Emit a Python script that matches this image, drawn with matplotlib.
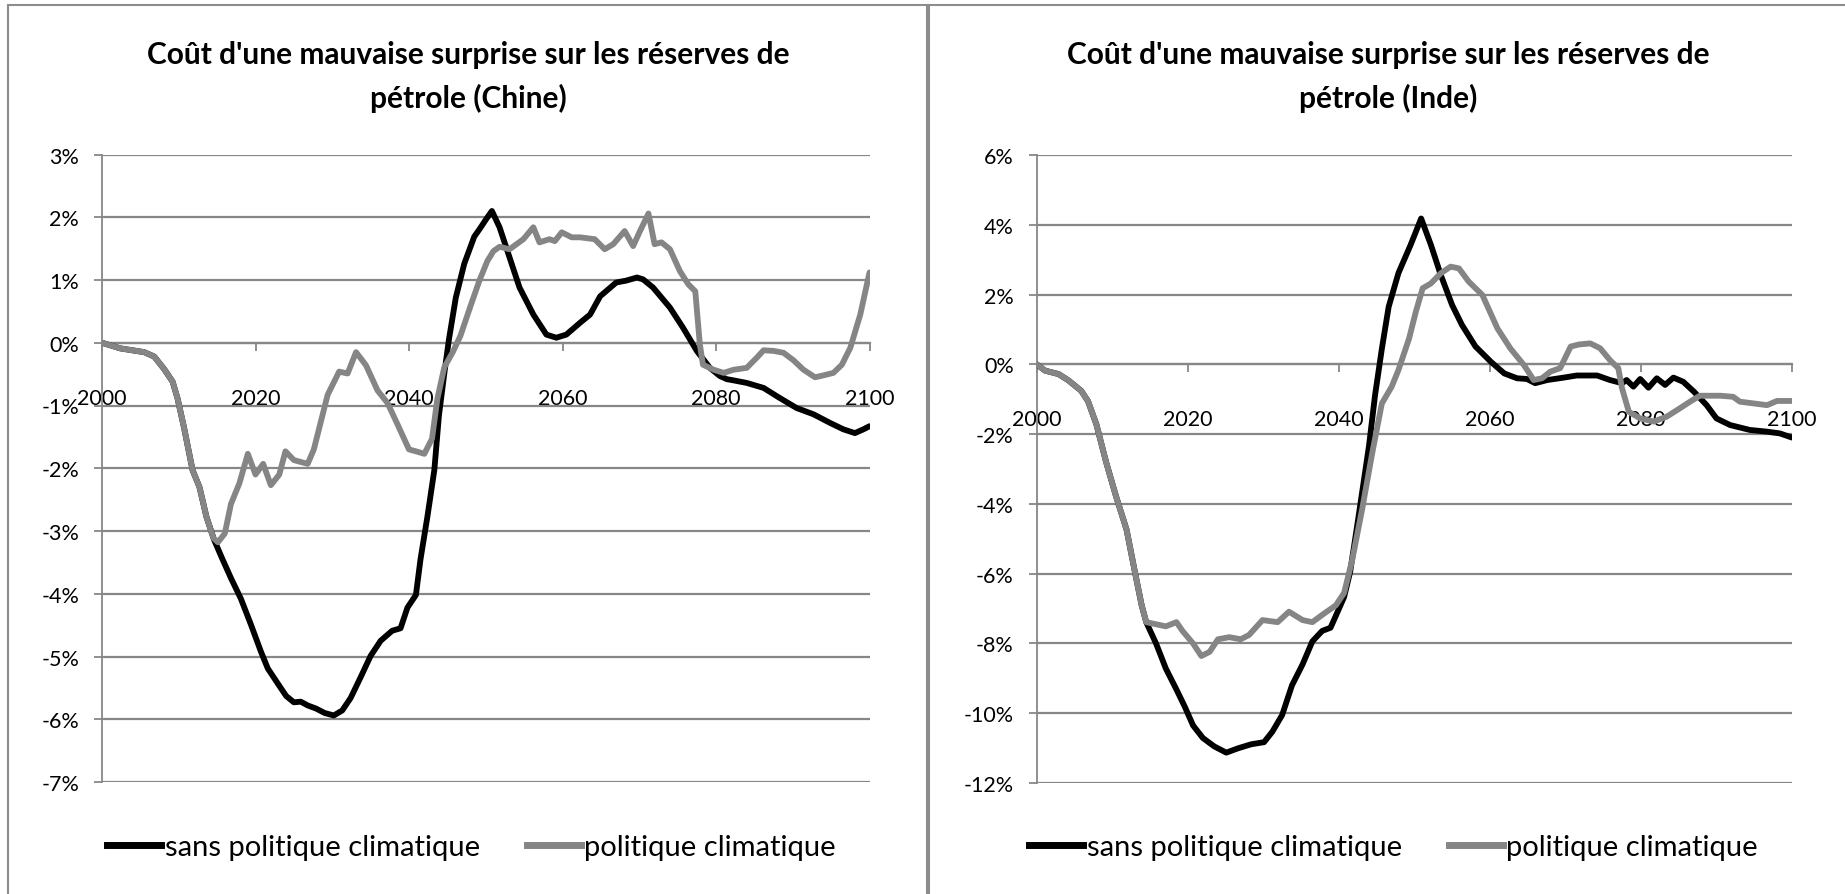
import matplotlib.pyplot as plt
from matplotlib.lines import Line2D
from matplotlib.patches import Rectangle

plt.rcParams['font.family'] = ['Lato', 'DejaVu Sans']

titles = ["Coût d'une mauvaise surprise sur les réserves de\npétrole (Chine)",
          "Coût d'une mauvaise surprise sur les réserves de\npétrole (Inde)"]
series_names = ["sans politique climatique", "politique climatique"]
x_ticks = [2000, 2020, 2040, 2060, 2080, 2100]
y_ticks_chine = [3, 2, 1, 0, -1, -2, -3, -4, -5, -6, -7]
y_ticks_inde = [6, 4, 2, 0, -2, -4, -6, -8, -10, -12]

# Chine, sans politique climatique (%)
chine_sans_years = [2000, 2002.4, 2005.5, 2006.8, 2008.1, 2009.2, 2009.85, 2010.7, 2011.8, 2012.7,
                    2013.6, 2014.6, 2015.7, 2016.8, 2018.1, 2019.4, 2020.7, 2021.6, 2022.9, 2024.0,
                    2025.0, 2025.9, 2026.8, 2027.9, 2029.0, 2030.2, 2031.3, 2032.4, 2033.7, 2035.0,
                    2036.3, 2037.8, 2038.9, 2039.8, 2040.9, 2041.5, 2042.4, 2043.3, 2043.9, 2044.6,
                    2045.2, 2046.1, 2047.2, 2048.5, 2049.3, 2050.0, 2050.8, 2051.8, 2053.1, 2054.4,
                    2056.2, 2057.9, 2059.2, 2060.5, 2062.3, 2063.6, 2064.9, 2067.0, 2068.3, 2069.7,
                    2070.5, 2071.8, 2074.0, 2075.7, 2077.5, 2079.2, 2080.5, 2081.4, 2082.3, 2084.0,
                    2086.2, 2088.3, 2090.5, 2092.7, 2094.9, 2096.6, 2098.1, 2099.2, 2100]
chine_sans = [0, -0.09, -0.15, -0.22, -0.42, -0.62, -0.89, -1.36, -2.03, -2.30,
              -2.77, -3.14, -3.45, -3.75, -4.08, -4.49, -4.92, -5.19, -5.43, -5.63,
              -5.73, -5.72, -5.78, -5.83, -5.90, -5.94, -5.86, -5.66, -5.33, -4.99,
              -4.75, -4.59, -4.55, -4.22, -4.02, -3.45, -2.77, -2.03, -1.16, -0.49,
              0.05, 0.72, 1.26, 1.69, 1.83, 1.96, 2.10, 1.84, 1.36, 0.88,
              0.45, 0.13, 0.08, 0.13, 0.32, 0.45, 0.74, 0.96, 0.99, 1.04,
              1.01, 0.88, 0.56, 0.24, -0.13, -0.40, -0.53, -0.58, -0.60, -0.64,
              -0.72, -0.88, -1.04, -1.14, -1.28, -1.38, -1.44, -1.38, -1.33]

# Chine, politique climatique (%)
chine_pol_years = [2000, 2002.4, 2005.5, 2006.8, 2008.1, 2009.2, 2009.85, 2010.7, 2011.8, 2012.7,
                   2013.6, 2014.5, 2015.1, 2016.0, 2016.8, 2017.9, 2019.0, 2020.0, 2021.0, 2022.0,
                   2023.1, 2023.9, 2025.0, 2026.8, 2027.6, 2029.4, 2030.9, 2032.0, 2033.1, 2034.4,
                   2035.9, 2037.2, 2038.5, 2040.0, 2040.9, 2042.0, 2043.0, 2043.7, 2044.6, 2045.7,
                   2046.7, 2048.0, 2049.2, 2050.2, 2051.0, 2051.8, 2053.1, 2054.9, 2056.2, 2057.0,
                   2058.3, 2059.0, 2059.9, 2061.2, 2062.3, 2064.2, 2065.5, 2066.6, 2068.1, 2069.2,
                   2070.1, 2071.2, 2072.0, 2072.9, 2074.0, 2075.3, 2076.4, 2077.3, 2077.9, 2078.3,
                   2079.7, 2081.0, 2082.3, 2084.0, 2085.3, 2086.2, 2087.5, 2088.8, 2090.1, 2091.4,
                   2092.9, 2094.0, 2095.3, 2096.4, 2097.5, 2098.8, 2100]
chine_pol = [0, -0.09, -0.15, -0.22, -0.42, -0.62, -0.89, -1.36, -2.03, -2.30,
             -2.77, -3.11, -3.18, -3.04, -2.57, -2.24, -1.77, -2.10, -1.93, -2.27,
             -2.10, -1.73, -1.87, -1.93, -1.70, -0.83, -0.46, -0.49, -0.15, -0.36,
             -0.76, -0.96, -1.30, -1.70, -1.73, -1.77, -1.53, -0.89, -0.39, -0.15,
             0.11, 0.58, 1.00, 1.30, 1.46, 1.53, 1.49, 1.65, 1.84, 1.60,
             1.65, 1.62, 1.76, 1.68, 1.68, 1.65, 1.49, 1.57, 1.78, 1.54,
             1.78, 2.06, 1.57, 1.60, 1.49, 1.14, 0.93, 0.82, -0.03, -0.35,
             -0.43, -0.48, -0.43, -0.40, -0.24, -0.12, -0.13, -0.16, -0.28, -0.43,
             -0.55, -0.52, -0.48, -0.35, -0.08, 0.45, 1.12]

# Inde, sans politique climatique (%)
inde_sans_years = [2000, 2001.1, 2002.9, 2004.2, 2005.9, 2006.8, 2007.9, 2009.2, 2010.5, 2011.9,
                   2013.0, 2013.9, 2014.5, 2015.8, 2017.1, 2018.5, 2019.6, 2020.7, 2022.0, 2023.5,
                   2025.1, 2026.6, 2028.4, 2030.1, 2031.2, 2032.5, 2033.8, 2035.2, 2036.5, 2037.8,
                   2038.9, 2039.6, 2040.7, 2041.5, 2042.6, 2044.0, 2044.8, 2045.7, 2046.6, 2047.9,
                   2049.5, 2050.9, 2052.2, 2053.5, 2055.0, 2056.3, 2058.1, 2060.1, 2061.9, 2063.6,
                   2064.9, 2066.0, 2067.6, 2069.8, 2071.5, 2074.2, 2075.9, 2077.5, 2078.1, 2079.0,
                   2079.9, 2081.0, 2082.1, 2083.2, 2084.3, 2085.6, 2087.0, 2088.7, 2090.0, 2091.8,
                   2094.4, 2096.7, 2098.4, 2100]
inde_sans = [0, -0.18, -0.28, -0.46, -0.76, -1.06, -1.72, -2.81, -3.78, -4.74,
             -5.95, -6.91, -7.39, -8.00, -8.72, -9.32, -9.81, -10.35, -10.71, -10.95,
             -11.13, -11.01, -10.89, -10.83, -10.53, -10.05, -9.20, -8.60, -7.94, -7.64,
             -7.55, -7.21, -6.67, -5.95, -4.38, -2.33, -0.88, 0.45, 1.65, 2.62,
             3.42, 4.18, 3.42, 2.56, 1.70, 1.13, 0.51, 0.08, -0.26, -0.40,
             -0.42, -0.54, -0.45, -0.38, -0.32, -0.32, -0.45, -0.54, -0.45, -0.64,
             -0.42, -0.67, -0.40, -0.59, -0.38, -0.50, -0.78, -1.17, -1.55, -1.74,
             -1.88, -1.93, -1.98, -2.10]

# Inde, politique climatique (%)
inde_pol_years = [2000, 2001.1, 2002.9, 2004.2, 2005.9, 2006.8, 2007.9, 2009.2, 2010.5, 2011.9,
                  2013.0, 2013.9, 2014.5, 2015.8, 2017.1, 2018.5, 2019.3, 2020.7, 2021.8, 2022.9,
                  2024.0, 2025.5, 2027.0, 2028.1, 2029.9, 2031.9, 2033.4, 2035.2, 2036.5, 2038.0,
                  2039.6, 2040.7, 2041.8, 2043.1, 2044.4, 2045.7, 2047.0, 2047.9, 2049.3, 2050.2,
                  2051.1, 2052.2, 2053.5, 2054.8, 2055.9, 2057.2, 2059.0, 2061.0, 2062.7, 2064.5,
                  2065.8, 2066.9, 2068.0, 2069.3, 2070.7, 2071.8, 2073.3, 2074.6, 2075.9, 2077.0,
                  2077.5, 2078.4, 2079.9, 2081.7, 2083.4, 2084.8, 2086.5, 2087.8, 2090.5, 2092.2,
                  2093.1, 2094.9, 2096.7, 2098.0, 2100]
inde_pol = [0, -0.18, -0.28, -0.46, -0.76, -1.06, -1.72, -2.81, -3.78, -4.74,
            -5.95, -6.91, -7.39, -7.45, -7.51, -7.39, -7.64, -8.00, -8.36, -8.24,
            -7.88, -7.82, -7.88, -7.76, -7.33, -7.39, -7.09, -7.33, -7.39, -7.15,
            -6.91, -6.55, -5.58, -4.14, -2.57, -1.12, -0.64, -0.16, 0.74, 1.51,
            2.18, 2.32, 2.61, 2.80, 2.75, 2.37, 1.99, 1.03, 0.46, -0.02,
            -0.45, -0.40, -0.21, -0.11, 0.51, 0.57, 0.60, 0.46, 0.12, -0.11,
            -0.69, -1.36, -1.55, -1.64, -1.50, -1.31, -1.07, -0.90, -0.90, -0.93,
            -1.07, -1.12, -1.17, -1.05, -1.05]

grid_col = '#878787'
black = '#000000'
grey = '#858585'

fig = plt.figure(figsize=(18.45, 8.95), dpi=100)

# chart frames
fig.add_artist(Rectangle((8 / 1845, -0.05), 919 / 1845, 1.05 - 6 / 895, transform=fig.transFigure,
                         fill=False, edgecolor='#8c8c8c', lw=1.5))
fig.add_artist(Rectangle((929.5 / 1845, -0.05), 0.6, 1.05 - 6 / 895, transform=fig.transFigure,
                         fill=False, edgecolor='#8c8c8c', lw=1.5))

ax1 = fig.add_axes([102 / 1845, 1 - 783 / 895, 767.5 / 1845, 627.5 / 895])
ax2 = fig.add_axes([1036.7 / 1845, 1 - 784 / 895, 755.3 / 1845, 628 / 895])

panels = [
    (ax1, chine_sans_years, chine_sans, chine_pol_years, chine_pol, y_ticks_chine, titles[0], 468, 471.5),
    (ax2, inde_sans_years, inde_sans, inde_pol_years, inde_pol, y_ticks_inde, titles[1], 1388, 1393.5),
]

for ax, xs, ys, xp, yp, yt, title, tx, leg_x in panels:
    ax.plot(xs, ys, color=black, lw=4.2, solid_joinstyle='round', solid_capstyle='round', zorder=3)
    ax.plot(xp, yp, color=grey, lw=4.2, solid_joinstyle='round', solid_capstyle='round', zorder=3)
    ax.set_xlim(2000, 2100)
    ax.set_ylim(min(yt), max(yt))
    ax.set_yticks(yt)
    ax.set_yticklabels([f"{v}%" for v in yt])
    ax.set_xticks(x_ticks)
    ax.set_xticklabels([str(v) for v in x_ticks])
    ax.grid(axis='y', color=grid_col, lw=1.6)
    ax.set_axisbelow(True)
    for s in ['top', 'right']:
        ax.spines[s].set_visible(False)
    ax.spines['bottom'].set_position(('data', 0))
    ax.spines['bottom'].set_color(grid_col)
    ax.spines['bottom'].set_linewidth(1.6)
    ax.spines['left'].set_color(grid_col)
    ax.spines['left'].set_linewidth(1.3)
    ax.tick_params(axis='y', direction='out', length=5.5, width=1.3, color=grid_col,
                   labelsize=15.5, pad=11, labelcolor='black')
    ax.tick_params(axis='x', direction='out', length=6, width=1.3, color=grid_col,
                   labelsize=15.5, pad=26.5, labelcolor='black')
    fig.text(tx / 1845, 1 - 77 / 895, title, ha='center', va='center', fontsize=21.5,
             fontweight='bold', linespacing=1.6)
    fig.legend([Line2D([], [], color=black, lw=5), Line2D([], [], color=grey, lw=5)],
               series_names, loc='center', bbox_to_anchor=(leg_x / 1845, 1 - 848 / 895),
               ncol=2, frameon=False, fontsize=21, handlelength=1.85, handletextpad=0.12,
               columnspacing=1.6)

fig.savefig('out.png', dpi=100)
